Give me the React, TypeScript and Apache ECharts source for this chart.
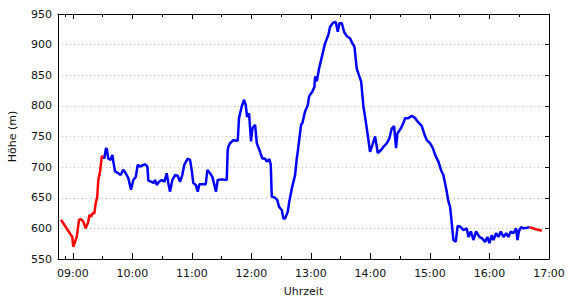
import React, { useEffect, useRef } from "react";
import * as echarts from "echarts";

// Time in minutes since midnight, altitude in metres
const redStartMin = [528, 539.4, 540.4, 543.9, 546.2, 548.2, 550.5, 552.9, 555.6, 556.6, 558.3, 560, 561.6, 563, 564.6, 565.6, 567.4, 569.1, 570.7];
const redStartAlt = [614, 586, 570, 586, 614, 615, 611, 600, 611, 622, 619, 625, 624, 641, 652, 679, 693, 717, 718];

const blueMin = [
  570.7, 571.7, 573.1, 574.1, 575.7, 578.1, 579.8, 580.8, 582.5, 585.8, 588.2, 590.8, 593.3, 595.9, 598.6, 600.9, 603.4, 605.4, 607.7, 612,
  612.7, 615.1, 616.1, 619.5, 621.1, 622.8, 624.5, 626.8, 629.6, 632.2, 634.6, 636.2, 637.9, 640.3, 643, 645.7, 648, 650.3, 652.4, 655.8,
  658.1, 659.8, 661.4, 663.9, 665.9, 667.5, 671.5, 673.9, 675.6, 678.3, 680.6, 682.6, 684.3, 686, 690.1, 695.1, 696.1, 696.7, 698.4, 701.8,
  706.2, 707.5, 710.2, 712.6, 714.3, 715.6, 717.6, 719.6, 720.9, 723.7, 725.4, 728.7, 731, 733.7, 735.5, 738.1, 739.5, 740.5, 743.8, 746.1,
  747.9, 750.6, 752.2, 753.9, 756.6, 758.2, 760.7, 764, 765.7, 766.7, 769, 770, 771.4, 774.1, 776.8, 778.1, 779.1, 781.4, 783.5, 784.2,
  785.9, 788.2, 791, 794.2, 797.6, 799.3, 802.6, 805, 807.1, 808.7, 811.1, 813.4, 816.1, 819.5, 821.8, 823.8, 826.2, 827.8, 830.6, 832.9,
  834.6, 837.3, 839.6, 841.9, 844.7, 847.4, 850.7, 853, 856.5, 859.1, 859.8, 861.5, 863.8, 865.8, 867.2, 870.6, 873.2, 874.9, 878.2, 881.7,
  885, 888.3, 891.8, 894.1, 896.8, 900.1, 902.9, 905.2, 908.5, 911.2, 913.5, 916.3, 918.6, 920.3, 922, 923.6, 926, 927.9, 930.4, 933.7,
  937.1, 938.8, 941.2, 943.8, 946.5, 949.8, 952.3, 955.6, 957.9, 959.9, 962.3, 964, 966.7, 969, 971.4, 974.1, 976.8, 979.1, 981.5, 984.2,
  986.9, 988.2, 989.6, 991.9, 994.2, 997.6, 1000.3,
];
const blueAlt = [
  718, 714, 729, 731, 714, 712, 720, 709, 693, 690, 687, 696, 690, 682, 663, 679, 684, 704, 701, 704,
  705, 701, 678, 676, 674, 679, 671, 676, 679, 676, 690, 674, 660, 679, 687, 686, 676, 687, 704, 714,
  712, 695, 674, 671, 660, 672, 672, 672, 695, 690, 684, 671, 660, 679, 680, 679, 728, 733, 739, 744,
  743, 780, 799, 810, 801, 782, 788, 742, 763, 769, 739, 725, 714, 714, 709, 713, 704, 652, 650, 646,
  635, 630, 616, 616, 627, 644, 665, 687, 714, 725, 755, 769, 772, 791, 801, 815, 818, 823, 831, 848,
  840, 861, 880, 902, 916, 929, 936, 937, 921, 935, 935, 921, 914, 910, 902, 897, 861, 853, 840, 799,
  782, 752, 725, 736, 750, 723, 728, 733, 739, 747, 752, 763, 767, 731, 755, 763, 772, 780, 780, 784,
  780, 773, 767, 755, 744, 739, 731, 720, 709, 695, 687, 665, 644, 635, 608, 581, 578, 604, 603, 597,
  600, 586, 595, 581, 595, 586, 584, 578, 586, 576, 589, 581, 592, 586, 595, 586, 592, 586, 595, 592,
  600, 581, 595, 602, 600, 601, 602,
];

const redEndMin = [1000.3, 1006, 1012.8];
const redEndAlt = [602, 599, 596];

const xMinMin = 525; // 08:45
const xMaxMin = 1020; // 17:00
const yMin = 550;
const yMax = 950;
const yStep = 50;

const BASE = new Date(2000, 0, 1, 0, 0, 0).getTime();
const ts = (m: number) => BASE + m * 60000;
const pairs = (mins: number[], alts: number[]) => mins.map((m, i) => [ts(m), alts[i]]);

const FONT = "DejaVu Sans";
const TXT = "#111";

export default function App() {
  const ref = useRef<HTMLDivElement>(null);
  useEffect(() => {
    document.body.style.margin = "0";
    const chart = echarts.init(ref.current!, null, { renderer: "svg" });
    const xCommon = {
      type: "time",
      min: ts(xMinMin),
      max: ts(xMaxMin),
      minInterval: 3600000,
      maxInterval: 3600000,
      axisLine: { show: true, onZero: false, lineStyle: { color: "#000", width: 1 } },
      splitLine: { show: false },
    };
    chart.setOption({
      animation: false,
      backgroundColor: "#fff",
      grid: { left: 58, right: 21, top: 14, bottom: 41, containLabel: false, outerBoundsMode: "none" },
      xAxis: [
        {
          ...xCommon,
          position: "bottom",
          axisTick: { show: true, inside: true, length: 6, lineStyle: { color: "#000" } },
          minorTick: { show: true, splitNumber: 2, length: 3, lineStyle: { color: "#000" } },
          axisLabel: {
            formatter: "{HH}:{mm}",
            color: TXT,
            fontSize: 11,
            fontFamily: FONT,
            margin: 9,
            showMinLabel: false,
            showMaxLabel: true,
          },
          name: "Uhrzeit",
          nameLocation: "middle",
          nameGap: 27,
          nameTextStyle: { color: TXT, fontSize: 11, fontFamily: FONT },
        },
        {
          ...xCommon,
          position: "top",
          axisTick: { show: true, inside: true, length: 5, lineStyle: { color: "#000" } },
          minorTick: { show: true, splitNumber: 2, length: 3, lineStyle: { color: "#000" } },
          axisLabel: { show: false },
        },
      ],
      yAxis: [
        {
          type: "value",
          min: yMin,
          max: yMax,
          interval: yStep,
          axisLine: { show: true, lineStyle: { color: "#000", width: 1 } },
          axisTick: { show: false },
          axisLabel: { color: TXT, fontSize: 11, fontFamily: FONT, margin: 6 },
          splitLine: { show: true, lineStyle: { color: "#bbb", type: [1, 3], width: 1 } },
          name: "Höhe (m)",
          nameLocation: "middle",
          nameGap: 40,
          nameRotate: 90,
          nameTextStyle: { color: TXT, fontSize: 11, fontFamily: FONT },
        },
        {
          type: "value",
          position: "right",
          min: yMin,
          max: yMax,
          interval: yStep,
          axisLine: { show: true, lineStyle: { color: "#000", width: 1 } },
          axisTick: { show: true, inside: true, length: 4, lineStyle: { color: "#000" } },
          axisLabel: { show: false },
          splitLine: { show: false },
        },
      ],
      series: [
        {
          type: "line",
          data: pairs(redStartMin, redStartAlt),
          showSymbol: false,
          lineStyle: { color: "#ff0000", width: 2.5 },
          itemStyle: { color: "#ff0000" },
          z: 3,
        },
        {
          type: "line",
          data: pairs(blueMin, blueAlt),
          showSymbol: false,
          lineStyle: { color: "#0000ff", width: 2.5 },
          itemStyle: { color: "#0000ff" },
          z: 2,
        },
        {
          type: "line",
          data: pairs(redEndMin, redEndAlt),
          showSymbol: false,
          lineStyle: { color: "#ff0000", width: 2.5 },
          itemStyle: { color: "#ff0000" },
          z: 3,
        },
      ],
    });
    return () => chart.dispose();
  }, []);
  return <div ref={ref} style={{ width: 570, height: 300 }} />;
}
